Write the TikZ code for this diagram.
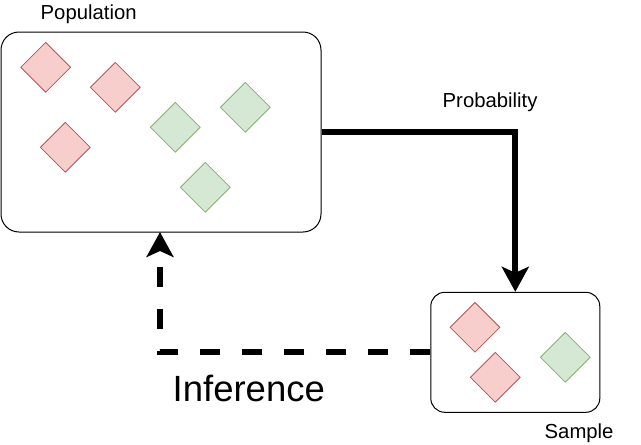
\documentclass[tikz,border=0pt]{standalone}
\usepackage{fontspec}
\setmainfont{Liberation Sans}
\usetikzlibrary{shapes.geometric,arrows.meta}
\definecolor{redfill}{HTML}{F8CECC}
\definecolor{redline}{HTML}{B85450}
\definecolor{greenfill}{HTML}{D5E8D4}
\definecolor{greenline}{HTML}{82B366}
\tikzset{
  box/.style={draw=black, line width=1pt, rounded corners=18pt, fill=white, inner sep=0pt},
  gem/.style={diamond, aspect=1, inner sep=0pt, minimum width=50pt, minimum height=50pt, line width=0.8pt},
  redgem/.style={gem, draw=redline, fill=redfill},
  greengem/.style={gem, draw=greenline, fill=greenfill},
  lbl/.style={anchor=base west, inner sep=0pt, font=\fontsize{20.3}{24}\selectfont},
  biglbl/.style={anchor=base west, inner sep=0pt, font=\fontsize{36.5}{44}\selectfont},
  solidarrow/.style={line width=6pt, -{Stealth[length=25pt, width=27pt, inset=6pt]}},
  dasharrow/.style={line width=6pt, dash pattern=on 20pt off 22pt, -{Stealth[length=25pt, width=27pt, inset=6pt]}}
}
\begin{document}
\begin{tikzpicture}[x=1pt, y=-1pt]
\useasboundingbox (0,0) rectangle (641,445);
% boxes
\node[box, minimum width=320pt, minimum height=200pt] (pop) at (161,132) {};
\node[box, rounded corners=14pt, minimum width=169pt, minimum height=120pt] (samp) at (515.3,352.3) {};
% population gems
\node[redgem] (r1) at (45.7,67.3) {};
\node[redgem] (r2) at (115.3,87.3) {};
\node[redgem] (r3) at (65.3,147.3) {};
\node[greengem] (g1) at (175.3,127.3) {};
\node[greengem] (g2) at (245.3,107.3) {};
\node[greengem] (g3) at (205.3,187.3) {};
% sample gems
\node[redgem] (s1) at (475,327.3) {};
\node[redgem] (s2) at (495.3,377.3) {};
\node[greengem] (s3) at (565.3,357.3) {};
% labels
\node[lbl] (poplbl) at (40.5,19) {Population};
\node[lbl] (problbl) at (442.5,107.3) {Probability};
\node[lbl] (samplbl) at (544.5,438) {Sample};
\node[biglbl] (inflbl) at (172.5,401.7) {Inference};
% connectors
\draw[solidarrow] (pop.east) -| (samp.north);
\coordinate (turn) at (160,352.3);
\coordinate (popin) at (160,232);
\draw[dasharrow] (samp.west) -- (turn) -- (popin);
\end{tikzpicture}
\end{document}
